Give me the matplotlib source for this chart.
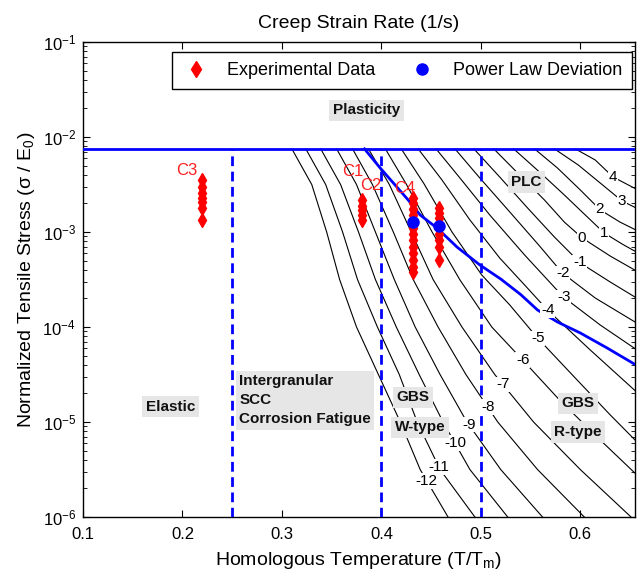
import numpy as np
import matplotlib
matplotlib.use("Agg")
import matplotlib.pyplot as plt
from matplotlib import font_manager
from matplotlib.lines import Line2D

names = {f.name for f in font_manager.fontManager.ttflist}
narrow = 'Liberation Sans Narrow' if 'Liberation Sans Narrow' in names else 'Liberation Sans'
plt.rcParams['font.family'] = [narrow, 'DejaVu Sans']
plt.rcParams['mathtext.fontset'] = 'custom'
plt.rcParams['mathtext.rm'] = narrow
plt.rcParams['mathtext.it'] = narrow

# creep strain rate contours, log10(1/s)
levels = [-12, -11, -10, -9, -8, -7, -6, -5, -4, -3, -2, -1, 0, 1, 2, 3, 4]
line_x = [
    [0.310, 0.330, 0.345, 0.358, 0.375, 0.397, 0.419, 0.439, 0.467],
    [0.324, 0.344, 0.361, 0.376, 0.396, 0.418, 0.436, 0.459, 0.494],
    [0.339, 0.359, 0.377, 0.394, 0.415, 0.438, 0.462, 0.489, 0.527],
    [0.355, 0.375, 0.394, 0.413, 0.434, 0.459, 0.486, 0.520, 0.562],
    [0.371, 0.391, 0.412, 0.432, 0.457, 0.485, 0.517, 0.557, 0.604],
    [0.387, 0.408, 0.430, 0.452, 0.481, 0.514, 0.553, 0.600, 0.651],
    [0.404, 0.425, 0.451, 0.479, 0.511, 0.542, 0.579, 0.620, 0.660],
    [0.420, 0.443, 0.471, 0.501, 0.529, 0.557, 0.595, 0.630, 0.660],
    [0.437, 0.461, 0.489, 0.519, 0.544, 0.567, 0.610, 0.660],
    [0.455, 0.479, 0.509, 0.544, 0.583, 0.620, 0.660],
    [0.474, 0.499, 0.529, 0.559, 0.582, 0.615, 0.660],
    [0.493, 0.519, 0.547, 0.574, 0.600, 0.630, 0.660],
    [0.513, 0.539, 0.564, 0.584, 0.602, 0.630, 0.660],
    [0.533, 0.559, 0.584, 0.605, 0.624, 0.642, 0.660],
    [0.554, 0.577, 0.600, 0.620, 0.640, 0.660],
    [0.574, 0.598, 0.620, 0.642, 0.660],
    [0.595, 0.615, 0.633, 0.660],
]
line_y = [
    [7.5e-3, 3.16e-3, 1e-3, 3.16e-4, 1e-4, 3.16e-5, 1e-5, 3.16e-6, 1e-6],
    [7.5e-3, 3.16e-3, 1e-3, 3.16e-4, 1e-4, 3.16e-5, 1e-5, 3.16e-6, 1e-6],
    [7.5e-3, 3.16e-3, 1e-3, 3.16e-4, 1e-4, 3.16e-5, 1e-5, 3.16e-6, 1e-6],
    [7.5e-3, 3.16e-3, 1e-3, 3.16e-4, 1e-4, 3.16e-5, 1e-5, 3.16e-6, 1e-6],
    [7.5e-3, 3.16e-3, 1e-3, 3.16e-4, 1e-4, 3.16e-5, 1e-5, 3.16e-6, 1e-6],
    [7.5e-3, 3.16e-3, 1e-3, 3.16e-4, 1e-4, 3.16e-5, 1e-5, 3.16e-6, 1e-6],
    [7.5e-3, 3.2e-3, 1e-3, 3.13e-4, 1e-4, 4.5e-5, 1.71e-5, 6.47e-6, 2.58e-6],
    [7.5e-3, 3.2e-3, 1e-3, 3.52e-4, 1.71e-4, 7.66e-5, 2.9e-5, 1.19e-5, 5.73e-6],
    [7.5e-3, 3.52e-3, 1.34e-3, 5.32e-4, 2.77e-4, 1.51e-4, 5.73e-5, 1.92e-5],
    [7.5e-3, 3.7e-3, 1.51e-3, 5.73e-4, 2.07e-4, 1.05e-4, 5.46e-5],
    [7.5e-3, 3.7e-3, 1.63e-3, 7.13e-4, 3.7e-4, 2.02e-4, 1.05e-4],
    [7.5e-3, 3.79e-3, 1.79e-3, 8.85e-4, 4.72e-4, 2.98e-4, 1.92e-4],
    [7.5e-3, 3.98e-3, 2.17e-3, 1.27e-3, 8.65e-4, 5.59e-4, 3.7e-4],
    [7.5e-3, 4.28e-3, 2.45e-3, 1.51e-3, 9.76e-4, 7.48e-4, 5.86e-4],
    [7.5e-3, 4.72e-3, 2.77e-3, 1.71e-3, 1.27e-3, 1.0e-3],
    [7.5e-3, 5.07e-3, 3.28e-3, 2.12e-3, 1.71e-3],
    [7.5e-3, 5.73e-3, 3.79e-3, 2.7e-3],
]
label_x = [0.4457, 0.4578, 0.4739, 0.4879, 0.5070, 0.5221, 0.5422, 0.5573, 0.5673,
           0.5834, 0.5824, 0.5995, 0.6015, 0.6236, 0.6196, 0.6417, 0.6327]

# power law deviation boundary
pld_curve_x = [0.383, 0.398, 0.427, 0.439, 0.456, 0.476, 0.499, 0.520, 0.540, 0.557, 0.577, 0.600, 0.627, 0.656]
pld_curve_y = [7.5e-3, 4.83e-3, 2.17e-3, 1.51e-3, 1.10e-3, 6.95e-4, 4.5e-4, 3.2e-4, 2.2e-4, 1.51e-4,
               1.13e-4, 8.65e-5, 6.01e-5, 3.98e-5]

plasticity_limit = 7.5e-3
boundaries_x = [0.25, 0.4, 0.5]

# experimental data
exp_x = [0.22, 0.22, 0.22, 0.22, 0.22, 0.22, 0.22,
         0.381, 0.381, 0.381, 0.381, 0.381,
         0.432, 0.432, 0.432, 0.432, 0.432, 0.432, 0.432, 0.432, 0.432, 0.432, 0.432, 0.432, 0.432,
         0.458, 0.458, 0.458, 0.458, 0.458, 0.458, 0.458, 0.458, 0.458]
exp_y = [3.5e-3, 3.0e-3, 2.6e-3, 2.3e-3, 2.05e-3, 1.8e-3, 1.35e-3,
         2.15e-3, 1.9e-3, 1.7e-3, 1.5e-3, 1.35e-3,
         2.3e-3, 2.0e-3, 1.75e-3, 1.5e-3, 1.3e-3, 1.1e-3, 9.5e-4, 8.2e-4, 7e-4, 6e-4, 5.1e-4, 4.3e-4, 3.8e-4,
         1.8e-3, 1.6e-3, 1.4e-3, 1.25e-3, 1.1e-3, 9.5e-4, 8.2e-4, 7e-4, 5.1e-4]
pld_x = [0.432, 0.458]
pld_y = [1.27e-3, 1.16e-3]

fig = plt.figure(figsize=(6.41, 5.79), dpi=100)
ax = fig.add_axes([83 / 641, 1 - 517 / 579, 552 / 641, 475 / 579])
ax.set_yscale('log')
ax.set_xlim(0.1, 0.655)
ax.set_ylim(1e-6, 1e-1)

blue = '#0000ff'
for lev, xs, ys, lx in zip(levels, line_x, line_y, label_x):
    ax.plot(xs, ys, color='black', lw=0.8, zorder=2)
    ly = 10 ** np.interp(lx, xs, np.log10(ys))
    ax.text(lx, ly, str(lev), ha='center', va='center', fontsize=11, zorder=6,
            bbox=dict(fc='white', ec='none', pad=0.6))

ax.axhline(plasticity_limit, color=blue, lw=2, zorder=4)
for bx in boundaries_x:
    ax.plot([bx, bx], [1e-6, plasticity_limit], color=blue, lw=2, ls=(0, (3.5, 2)), zorder=4)
ax.plot(pld_curve_x, pld_curve_y, color=blue, lw=2, zorder=4)

ax.plot(exp_x, exp_y, 'd', color='red', ms=7, mec='red', zorder=7)
ax.plot(pld_x, pld_y, 'o', color=blue, ms=8, zorder=8)

red = '#ff2020'
ax.text(0.2045, 4.4e-3, 'C3', color=red, fontsize=12, ha='center', va='center', zorder=9)
ax.text(0.3714, 4.3e-3, 'C1', color=red, fontsize=12, ha='center', va='center', zorder=9)
ax.text(0.3894, 3.1e-3, 'C2', color=red, fontsize=12, ha='center', va='center', zorder=9)
ax.text(0.4236, 2.9e-3, 'C4', color=red, fontsize=12, ha='center', va='center', zorder=9)

box = dict(fc='#e6e6e6', ec='none', pad=2.5)
kw = dict(fontsize=11, fontweight='bold', color='#111111', zorder=6, bbox=box)
ax.text(0.385, 1.92e-2, 'Plasticity', ha='center', va='center', **kw)
ax.text(0.188, 1.45e-5, 'Elastic', ha='center', va='center', **kw)
ax.text(0.257, 1.7e-5, 'Intergranular\nSCC\nCorrosion Fatigue', ha='left', va='center',
        linespacing=1.45, **kw)
ax.text(0.432, 1.83e-5, 'GBS', ha='center', va='center', **kw)
ax.text(0.4387, 8.85e-6, 'W-type', ha='center', va='center', **kw)
ax.text(0.5975, 1.58e-5, 'GBS', ha='center', va='center', **kw)
ax.text(0.5975, 7.85e-6, 'R-type', ha='center', va='center', **kw)
ax.text(0.546, 3.36e-3, 'PLC', ha='center', va='center', **kw)

handles = [Line2D([], [], ls='none', marker='d', color='red', ms=8),
           Line2D([], [], ls='none', marker='o', color=blue, ms=8)]
leg = ax.legend(handles, ['Experimental Data', 'Power Law Deviation'], ncol=2,
                loc='upper right', bbox_to_anchor=(0.9946, 0.978), fontsize=13,
                frameon=True, fancybox=False, edgecolor='black', framealpha=1,
                handlelength=1.6, handletextpad=0.9, columnspacing=1.8, borderpad=0.55,
                borderaxespad=0)
leg.get_frame().set_linewidth(1.0)

ax.set_xticks([0.1, 0.2, 0.3, 0.4, 0.5, 0.6])
ax.set_xticklabels(['0.1', '0.2', '0.3', '0.4', '0.5', '0.6'])
ax.tick_params(which='both', direction='in', top=True, right=True, labelsize=12)
ax.tick_params(axis='x', pad=7)
ax.tick_params(axis='y', pad=5)
ax.tick_params(which='major', length=5)
ax.tick_params(which='minor', length=3)
for s in ax.spines.values():
    s.set_linewidth(1.0)

fig.text(359 / 641, 1 - 24 / 579, 'Creep Strain Rate (1/s)', ha='center', va='center', fontsize=14)
ax.set_xlabel('Homologous Temperature (T/T$_\\mathrm{m}$)', fontsize=14, labelpad=6)
ax.set_ylabel('Normalized Tensile Stress ($\\sigma$ / E$_0$)', fontsize=14, labelpad=4)

fig.savefig('out.png', dpi=100)
